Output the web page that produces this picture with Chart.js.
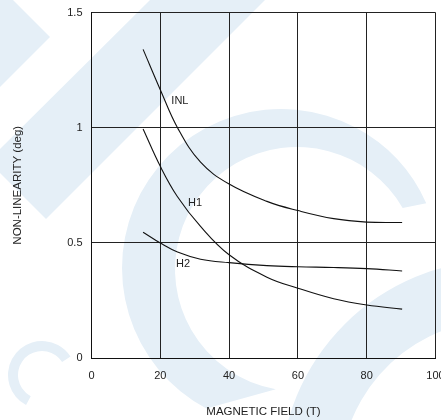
<!DOCTYPE html>
<html><head><meta charset="utf-8">
<script src="https://cdn.jsdelivr.net/npm/chart.js@4.4.1/dist/chart.umd.min.js"></script>
<style>
html,body{margin:0;padding:0;background:#fff;overflow:hidden;width:441px;height:420px}
#wrap{width:450px;height:420px;position:relative}
canvas{display:block}
</style></head>
<body><div id="wrap"><canvas id="c" width="450" height="420"></canvas></div>
<script>
// ---- data ----
const fieldT = [15, 20, 25, 31.7, 40, 51, 60, 70.4, 80, 90.3];
const inl    = [1.34, 1.165, 1.0, 0.85, 0.755, 0.68, 0.64, 0.605, 0.59, 0.588];
const h1     = [0.994, 0.832, 0.70, 0.571, 0.448, 0.351, 0.303, 0.257, 0.23, 0.212];
const h2     = [0.546, 0.499, 0.46, 0.429, 0.414, 0.401, 0.396, 0.393, 0.388, 0.378];
const xTicks = [0, 20, 40, 60, 80, 100];
const yTicks = [0, 0.5, 1, 1.5];
const seriesNames = ['INL', 'H1', 'H2'];
const seriesLabelAt = [[25.7, 1.116], [30.1, 0.673], [26.6, 0.408]];

Chart.defaults.font.family = '"Liberation Sans", Arial, Helvetica, sans-serif';
Chart.defaults.font.size = 11;
Chart.defaults.color = '#222';

const D = Math.PI / 180;
function ring(c, cx, cy, ri, ro, a0, a1) {
  c.beginPath();
  c.arc(cx, cy, ro, a0 * D, a1 * D, false);
  c.arc(cx, cy, ri, a1 * D, a0 * D, true);
  c.closePath();
  c.fill();
}
const watermark = {
  id: 'watermark',
  beforeDraw(chart) {
    const c = chart.ctx;
    c.save();
    c.fillStyle = 'rgb(229,239,247)';
    // chevron pieces on the left
    c.beginPath();
    c.moveTo(0, 0); c.lineTo(13, 0); c.lineTo(50, 37); c.lineTo(0, 87);
    c.closePath(); c.fill();
    c.beginPath();
    c.moveTo(150, 0); c.lineTo(265, 0); c.lineTo(46, 219); c.lineTo(-12, 161);
    c.closePath(); c.fill();
    // large open ring (outer and inner edges are not concentric)
    c.beginPath();
    c.arc(281, 268, 159, 118 * D, 336 * D, false);
    c.arc(297, 269, 122, 330 * D, 100 * D, true);
    c.closePath(); c.fill();
    // lower-right ring and small ring
    ring(c, 500, 480, 160, 220, 180, 300);
    ring(c, 42, 375, 24, 34, 118, 327);
    c.restore();
  }
};
const curveLabels = {
  id: 'curveLabels',
  afterDatasetsDraw(chart) {
    const c = chart.ctx, xs = chart.scales.x, ys = chart.scales.y;
    c.save();
    c.font = '11px "Liberation Sans", Arial, sans-serif';
    c.fillStyle = '#222';
    c.textAlign = 'center';
    c.textBaseline = 'middle';
    seriesNames.forEach((n, i) => {
      c.fillText(n, xs.getPixelForValue(seriesLabelAt[i][0]), ys.getPixelForValue(seriesLabelAt[i][1]));
    });
    c.restore();
  }
};

const mk = (name, ys) => ({
  label: name,
  data: fieldT.map((x, i) => ({ x: x, y: ys[i] })),
  borderColor: '#111', borderWidth: 1.1, pointRadius: 0, fill: false,
  tension: 0.4
});

new Chart(document.getElementById('c'), {
  type: 'line',
  data: { datasets: [mk(seriesNames[0], inl), mk(seriesNames[1], h1), mk(seriesNames[2], h2)] },
  options: {
    responsive: false, animation: false, events: [],
    layout: { padding: { top: 12.5, right: 14.5, left: 0, bottom: 0 } },
    plugins: { legend: { display: false }, tooltip: { enabled: false } },
    scales: {
      x: {
        type: 'linear', min: 0, max: 100,
        afterBuildTicks(s) { s.ticks = xTicks.map(v => ({ value: v })); },
        ticks: { padding: 11, maxRotation: 0, color: '#222', callback: v => String(v) },
        grid: { color: '#222', lineWidth: 1, drawTicks: false },
        border: { color: '#111', width: 1 },
        title: { display: true, text: 'MAGNETIC FIELD (T)', color: '#222', font: { size: 11.5 }, padding: { top: 0, bottom: 1 } },
        afterFit(s) { s.height = 62; s.paddingLeft = 0; s.paddingRight = 0; }
      },
      y: {
        type: 'linear', min: 0, max: 1.5,
        afterBuildTicks(s) { s.ticks = yTicks.map(v => ({ value: v })); },
        ticks: { padding: 9, color: '#222', callback: v => String(v) },
        grid: { color: '#222', lineWidth: 1, drawTicks: false },
        border: { color: '#111', width: 1 },
        title: { display: true, text: 'NON-LINEARITY (deg)', color: '#222', font: { size: 11.5 }, padding: { top: 11, bottom: 0 } },
        afterFit(s) { s.width = 91.5; s.paddingTop = 0; s.paddingBottom = 0; }
      }
    }
  },
  plugins: [watermark, curveLabels]
});
</script>
</body></html>
